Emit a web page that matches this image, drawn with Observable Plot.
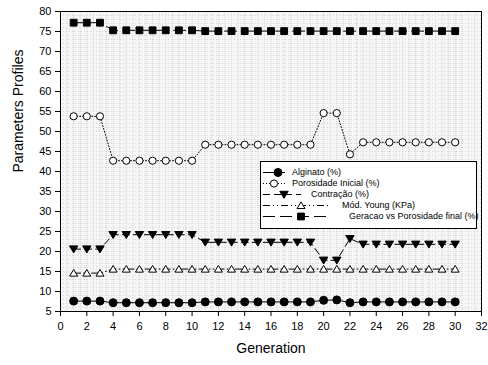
<!DOCTYPE html>
<html>
<head>
<meta charset="utf-8">
<script src="https://cdn.jsdelivr.net/npm/d3@7"></script>
<script src="https://cdn.jsdelivr.net/npm/@observablehq/plot@0.6"></script>
<style>
  body { margin: 0; background: #fff; font-family: "Liberation Sans", Arial, sans-serif; }
  #wrap { position: relative; width: 488px; height: 365px; }
  #legend { position: absolute; left: 260px; top: 161px; width: 215px; height: 66px;
    border: 1px solid #000; background: #fff; font-size: 9px; color: #000; }
  #legend .row { position: absolute; left: 0; height: 11px; width: 100%; }
  #legend svg { position: absolute; left: 0; top: 0; overflow: visible; }
  #legend span { position: absolute; top: 0; line-height: 11px; white-space: nowrap; }
</style>
</head>
<body>
<div id="wrap"><div id="chart"></div><div id="legend"></div></div>
<script>
const generation = [1,2,3,4,5,6,7,8,9,10,11,12,13,14,15,16,17,18,19,20,21,22,23,24,25,26,27,28,29,30];
const alginato = [7.6,7.6,7.6,7.2,7.2,7.2,7.2,7.2,7.2,7.2,7.4,7.4,7.4,7.4,7.4,7.4,7.4,7.4,7.4,7.8,7.9,7.2,7.4,7.4,7.4,7.4,7.4,7.4,7.4,7.4];
const porosidadeInicial = [53.8,53.8,53.8,42.7,42.7,42.7,42.7,42.7,42.7,42.7,46.7,46.7,46.7,46.7,46.7,46.7,46.7,46.7,46.7,54.6,54.6,44.3,47.3,47.3,47.3,47.3,47.3,47.3,47.3,47.3];
const contracao = [20.6,20.6,20.6,24.2,24.2,24.2,24.2,24.2,24.2,24.2,22.3,22.3,22.3,22.3,22.3,22.3,22.3,22.3,22.3,17.8,17.8,23.2,21.8,21.8,21.8,21.8,21.8,21.8,21.8,21.8];
const modYoung = [14.6,14.6,14.6,15.6,15.6,15.6,15.6,15.6,15.6,15.6,15.6,15.6,15.6,15.6,15.6,15.6,15.6,15.6,15.6,15.6,15.6,15.6,15.6,15.6,15.6,15.6,15.6,15.6,15.6,15.6];
const porosidadeFinal = [77.2,77.2,77.2,75.3,75.3,75.3,75.3,75.3,75.3,75.3,75.1,75.1,75.1,75.1,75.1,75.1,75.1,75.1,75.1,75.1,75.1,75.1,75.1,75.1,75.1,75.1,75.1,75.1,75.1,75.1];
const seriesNames = ["Alginato (%)", "Porosidade Inicial (%)", "Contração (%)", "Mód. Young (KPa)", "Geracao vs Porosidade final (%)"];
const xTicks = [0,2,4,6,8,10,12,14,16,18,20,22,24,26,28,30,32];
const yTicks = [5,10,15,20,25,30,35,40,45,50,55,60,65,70,75,80];

// custom symbols (size = pi r^2)
const triDown = { draw(ctx, size) { const r = Math.sqrt(size / Math.PI); ctx.moveTo(-r*1.05, -r*0.8); ctx.lineTo(r*1.05, -r*0.8); ctx.lineTo(0, r*0.95); ctx.closePath(); } };
const triUp = { draw(ctx, size) { const r = Math.sqrt(size / Math.PI); ctx.moveTo(-r*1.05, r*0.8); ctx.lineTo(r*1.05, r*0.8); ctx.lineTo(0, -r*0.95); ctx.closePath(); } };
const sq = { draw(ctx, size) { const r = Math.sqrt(size / Math.PI); ctx.rect(-r, -r, 2*r, 2*r); } };

const styles = [
  { values: alginato, dash: null, symbol: "circle", fill: "#000", r: 4 },
  { values: porosidadeInicial, dash: "1,2", symbol: "circle", fill: "#fff", r: 3.6 },
  { values: contracao, dash: "7,4", symbol: triDown, fill: "#000", r: 4 },
  { values: modYoung, dash: "7,3,1,3,1,3", symbol: triUp, fill: "#fff", r: 3.8 },
  { values: porosidadeFinal, dash: "12,5", symbol: sq, fill: "#000", r: 3.4 }
];

const gridX = d3.range(0, 32.01, 0.5);
const gridY = d3.range(5, 80.01, 1);

const marks = [
  Plot.frame({ fill: "#f6f6f6", stroke: "none" }),
  Plot.gridX(gridX, { stroke: "#d2d2d2", strokeOpacity: 1, strokeDasharray: "1,1" }),
  Plot.gridY(gridY, { stroke: "#d6d6d6", strokeOpacity: 1, strokeDasharray: "1,2" }),
  Plot.frame({ stroke: "#000", strokeWidth: 1 })
];
styles.forEach((s, i) => {
  const data = generation.map((g, j) => ({ g, v: s.values[j] }));
  marks.push(Plot.line(data, { x: "g", y: "v", stroke: "#000", strokeWidth: 1, strokeDasharray: s.dash || undefined }));
  marks.push(Plot.dot(data, { x: "g", y: "v", symbol: () => s.symbol, r: s.r, fill: s.fill, stroke: "#000", strokeWidth: 1 }));
});
marks.push(
  Plot.axisX({ ticks: xTicks, tickSize: 5, tickPadding: 6, fontSize: 11, label: null }),
  Plot.axisY({ ticks: yTicks, tickSize: 5, tickPadding: 4, fontSize: 11, label: null }),
  Plot.text(["Generation"], { frameAnchor: "bottom", dy: 41, fontSize: 14, text: d => d }),
  Plot.text(["Parameters Profiles"], { frameAnchor: "left", dx: -42, dy: 11, rotate: -90, fontSize: 14, text: d => d })
);

const chart = Plot.plot({
  width: 488, height: 365,
  marginLeft: 60, marginRight: 7, marginTop: 11, marginBottom: 54,
  style: { fontFamily: "'Liberation Sans', Arial, sans-serif", color: "#000", background: "#fff" },
  x: { domain: [0, 32] },
  y: { domain: [5, 80] },
  symbol: { type: "identity" },
  marks
});
document.getElementById("chart").appendChild(chart);

// legend
const legendSpec = [
  { lineTo: 24, marker: 17, textX: 31, dash: null },
  { lineTo: 25, marker: 13, textX: 31, dash: "1,2" },
  { lineTo: 40, marker: 23, textX: 50, dash: "7,4" },
  { lineTo: 68, marker: 40, textX: 81, dash: "7,3,1,3,1,3" },
  { lineTo: 68, marker: 40, textX: 88, dash: "12,5" }
];
const legend = document.getElementById("legend");
legendSpec.forEach((L, i) => {
  const s = styles[i];
  const row = document.createElement("div");
  row.className = "row";
  row.style.top = (5 + i * 11) + "px";
  const svg = d3.create("svg").attr("width", 80).attr("height", 11);
  svg.append("line").attr("x1", 2).attr("x2", L.lineTo).attr("y1", 5.5).attr("y2", 5.5)
    .attr("stroke", "#000").attr("stroke-dasharray", s.dash);
  const sym = typeof s.symbol === "string" ? d3.symbolCircle : s.symbol;
  svg.append("path").attr("d", d3.symbol(sym, Math.PI * s.r * s.r)())
    .attr("transform", `translate(${L.marker},5.5)`).attr("fill", s.fill).attr("stroke", "#000");
  row.appendChild(svg.node());
  const t = document.createElement("span");
  t.style.left = L.textX + "px";
  t.textContent = seriesNames[i];
  row.appendChild(t);
  legend.appendChild(row);
});
</script>
</body>
</html>
